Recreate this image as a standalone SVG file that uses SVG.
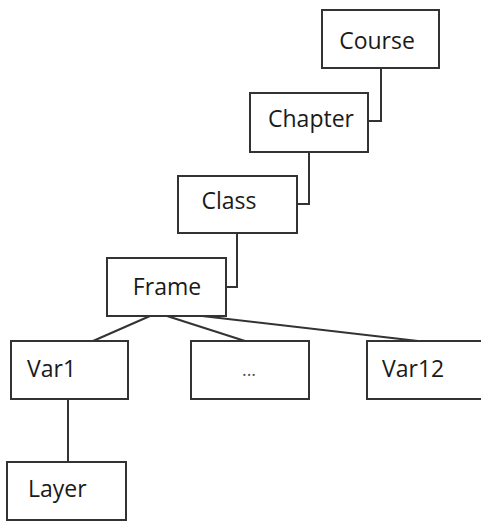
<svg xmlns="http://www.w3.org/2000/svg" width="481" height="522" viewBox="0 0 481 522">
  <style>
    .box { fill: #ffffff; stroke: #333333; stroke-width: 2; }
    .edge { fill: none; stroke: #333333; stroke-width: 2; }
    .label { font-family: "Open Sans", "Liberation Sans", sans-serif; font-size: 23px; fill: #1a1a1a; }
    .mid { text-anchor: middle; }
    .dots { fill: #555555; font-size: 18px; }
  </style>
  <rect width="481" height="522" fill="#ffffff"/>

  <!-- hierarchy connectors -->
  <g id="connectors">
    <polyline class="edge" points="381,68 381,121 368,121"/>
    <polyline class="edge" points="309,152 309,204 297,204"/>
    <polyline class="edge" points="237,233 237,287 226,287"/>
    <line class="edge" x1="150" y1="316" x2="93" y2="341"/>
    <line class="edge" x1="167" y1="316" x2="245" y2="341"/>
    <line class="edge" x1="202" y1="316" x2="418" y2="341"/>
    <line class="edge" x1="68" y1="399" x2="68" y2="462"/>
  </g>

  <g id="course">
    <rect class="box" x="322" y="10" width="117" height="58"/>
    <text class="label mid" x="377" y="49">Course</text>
  </g>
  <g id="chapter">
    <rect class="box" x="250" y="93" width="118" height="59"/>
    <text class="label mid" x="311" y="127">Chapter</text>
  </g>
  <g id="class">
    <rect class="box" x="178" y="176" width="119" height="57"/>
    <text class="label mid" x="229" y="209">Class</text>
  </g>
  <g id="frame">
    <rect class="box" x="107" y="258" width="119" height="58"/>
    <text class="label mid" x="167" y="295">Frame</text>
  </g>
  <g id="var1">
    <rect class="box" x="11" y="341" width="117" height="58"/>
    <text class="label" x="27" y="377">Var1</text>
  </g>
  <g id="var-more">
    <rect class="box" x="191" y="341" width="118" height="58"/>
    <text class="label mid dots" x="249" y="376">...</text>
  </g>
  <g id="var12">
    <rect class="box" x="367" y="341" width="120" height="58"/>
    <text class="label" x="382" y="377">Var12</text>
  </g>
  <g id="layer">
    <rect class="box" x="7" y="462" width="119" height="58"/>
    <text class="label" x="28" y="497">Layer</text>
  </g>
</svg>
